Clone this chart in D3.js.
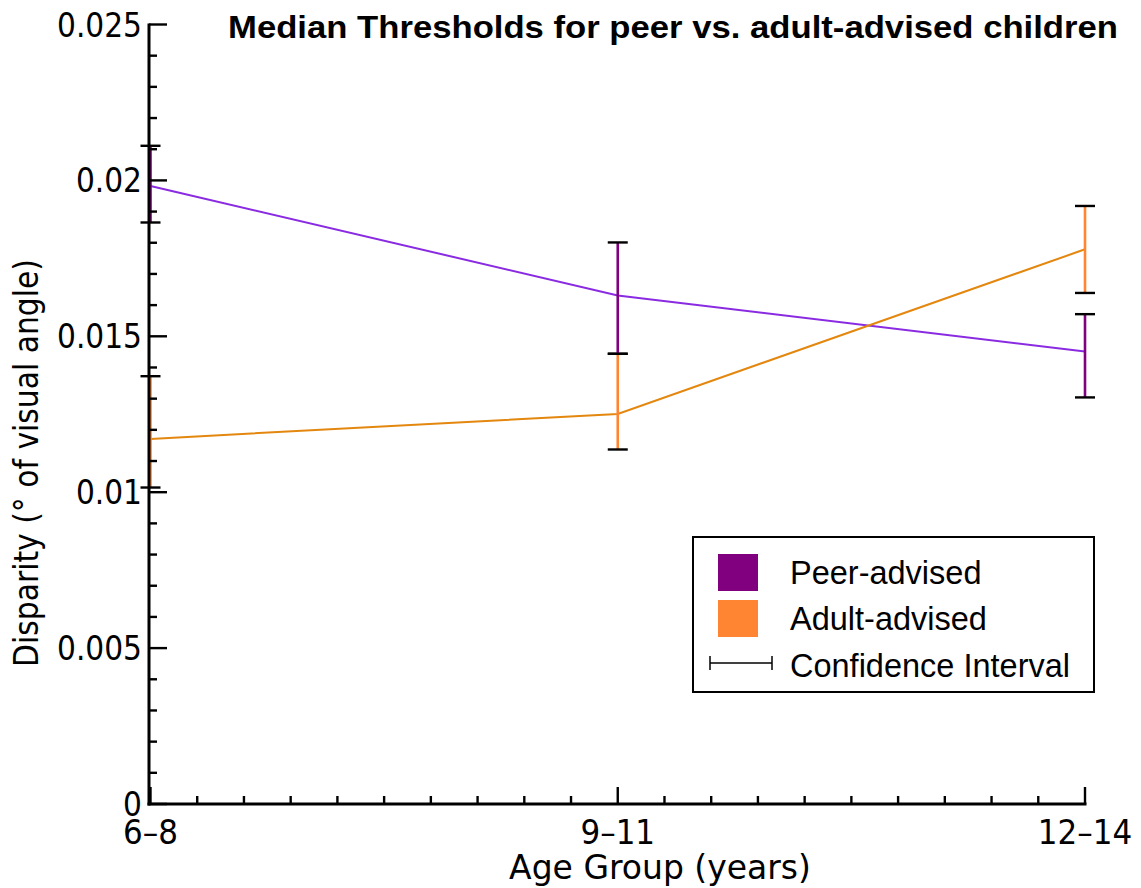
<!DOCTYPE html>
<html>
<head>
<meta charset="utf-8">
<script src="https://cdn.jsdelivr.net/npm/d3@7"></script>
<style>
  html, body { margin: 0; padding: 0; background: #fff; }
  svg { display: block; }
</style>
</head>
<body>
<svg id="chart" width="1141" height="888"></svg>
<script>
// Age groups on the x axis
const ageGroups = ["6\u20138", "9\u201311", "12\u201314"];

// Median disparity thresholds (degrees of visual angle) with confidence bounds
const peerMedian  = [0.01982, 0.01631, 0.01451];
const peerLow     = [0.01865, 0.01444, 0.01304];
const peerHigh    = [0.02111, 0.01801, 0.01571];

const adultMedian = [0.01171, 0.01251, 0.01779];
const adultLow    = [0.01015, 0.01137, 0.01639];
const adultHigh   = [0.01372, 0.01444, 0.01918];

// Axis ticks
const yMajorTicks = [0, 0.005, 0.01, 0.015, 0.02, 0.025];
const yTickLabels = ["0", "0.005", "0.01", "0.015", "0.02", "0.025"];

const seriesNames = ["Peer-advised", "Adult-advised"];
const ciLabel = "Confidence Interval";

const svg = d3.select("#chart");

const x = d3.scalePoint().domain(ageGroups).range([150.5, 1085]);
const y = d3.scaleLinear().domain([0, 0.025]).range([804, 24.5]);

const AXIS = "#000";
const tickFont = "'DejaVu Sans', sans-serif";

// ---- series lines ----
const line = d3.line()
  .x((d, i) => x(ageGroups[i]))
  .y(d => y(d));

svg.append("path").datum(peerMedian)
  .attr("d", line).attr("fill", "none")
  .attr("stroke", "#8A2BE2").attr("stroke-width", 2);

svg.append("path").datum(adultMedian)
  .attr("d", line).attr("fill", "none")
  .attr("stroke", "#E3870F").attr("stroke-width", 2);

// ---- error bars ----
function errorBars(low, high, color) {
  const g = svg.append("g");
  ageGroups.forEach((a, i) => {
    const cx = x(a);
    g.append("line")
      .attr("x1", cx).attr("x2", cx)
      .attr("y1", y(low[i])).attr("y2", y(high[i]))
      .attr("stroke", color).attr("stroke-width", 2.6);
    [low[i], high[i]].forEach(v => {
      g.append("line")
        .attr("x1", cx - 10).attr("x2", cx + 10)
        .attr("y1", y(v)).attr("y2", y(v))
        .attr("stroke", "#000").attr("stroke-width", 2.4);
    });
  });
}
errorBars(adultLow, adultHigh, "#FF8530");
errorBars(peerLow, peerHigh, "#800080");

// ---- y axis ----
const yAxisG = svg.append("g");
yAxisG.append("line")
  .attr("x1", 149).attr("x2", 149)
  .attr("y1", y(0.025) - 1).attr("y2", y(0) + 1.5)
  .attr("stroke", AXIS).attr("stroke-width", 3);

const yMinor = d3.range(0, 26).map(k => k * 0.001)
  .filter(v => !yMajorTicks.some(m => Math.abs(m - v) < 1e-9));

yAxisG.selectAll("line.minor").data(yMinor).enter().append("line")
  .attr("class", "minor")
  .attr("x1", 149).attr("x2", 157)
  .attr("y1", d => y(d)).attr("y2", d => y(d))
  .attr("stroke", AXIS).attr("stroke-width", 2.4);

yAxisG.selectAll("line.major").data(yMajorTicks).enter().append("line")
  .attr("class", "major")
  .attr("x1", 149).attr("x2", 167)
  .attr("y1", d => y(d)).attr("y2", d => y(d))
  .attr("stroke", AXIS).attr("stroke-width", 2.4);

// tick labels use a slightly narrowed DejaVu face
yAxisG.selectAll("text").data(yMajorTicks).enter().append("text")
  .attr("transform", d => `translate(142,${y(d) + 12}) scale(0.9,1)`)
  .attr("text-anchor", "end")
  .attr("font-family", tickFont)
  .attr("font-size", 33)
  .attr("fill", "#000")
  .text((d, i) => yTickLabels[i]);

// ---- x axis ----
const xAxisG = svg.append("g");
xAxisG.append("line")
  .attr("x1", 147.5).attr("x2", 1086.5)
  .attr("y1", 804).attr("y2", 804)
  .attr("stroke", AXIS).attr("stroke-width", 3);

const xMinor = [];
for (let i = 0; i < ageGroups.length - 1; i++) {
  const a = x(ageGroups[i]), b = x(ageGroups[i + 1]);
  for (let k = 1; k < 10; k++) xMinor.push(a + (b - a) * k / 10);
}
xAxisG.selectAll("line.minor").data(xMinor).enter().append("line")
  .attr("x1", d => d).attr("x2", d => d)
  .attr("y1", 804).attr("y2", 796)
  .attr("stroke", AXIS).attr("stroke-width", 2.4);

xAxisG.selectAll("line.major").data(ageGroups).enter().append("line")
  .attr("x1", d => x(d)).attr("x2", d => x(d))
  .attr("y1", 804).attr("y2", 787)
  .attr("stroke", AXIS).attr("stroke-width", 2.4);

xAxisG.selectAll("text").data(ageGroups).enter().append("text")
  .attr("transform", d => `translate(${x(d)},844) scale(0.94,1)`)
  .attr("text-anchor", "middle")
  .attr("font-family", tickFont)
  .attr("font-size", 33)
  .attr("fill", "#000")
  .text(d => d);

// ---- axis titles ----
svg.append("text")
  .attr("x", 660).attr("y", 879)
  .attr("text-anchor", "middle")
  .attr("font-family", tickFont)
  .attr("font-size", 33)
  .attr("fill", "#000")
  .text("Age Group (years)");

svg.append("text")
  .attr("transform", "translate(38,463) rotate(-90)")
  .attr("text-anchor", "middle")
  .attr("font-family", tickFont)
  .attr("font-size", 34)
  .attr("textLength", 408)
  .attr("lengthAdjust", "spacingAndGlyphs")
  .attr("fill", "#000")
  .text("Disparity (\u00B0 of visual angle)");

// ---- title ----
svg.append("text")
  .attr("x", 228).attr("y", 38)
  .attr("font-family", "'Liberation Sans', Arial, sans-serif")
  .attr("font-weight", "bold")
  .attr("font-size", 30.5)
  .attr("textLength", 890)
  .attr("lengthAdjust", "spacingAndGlyphs")
  .attr("fill", "#000")
  .text("Median Thresholds for peer vs. adult-advised children");

// ---- legend ----
const legend = svg.append("g");
legend.append("rect")
  .attr("x", 693).attr("y", 537)
  .attr("width", 401).attr("height", 155)
  .attr("fill", "#fff").attr("stroke", "#000").attr("stroke-width", 2);

const swatchColors = ["#800080", "#FF8533"];
seriesNames.forEach((name, i) => {
  legend.append("rect")
    .attr("x", 718).attr("y", 554 + i * 46)
    .attr("width", 40).attr("height", 37)
    .attr("fill", swatchColors[i]);
  legend.append("text")
    .attr("x", 790).attr("y", 584 + i * 46)
    .attr("font-family", "'Liberation Sans', Arial, sans-serif")
    .attr("font-size", 32.5)
    .attr("fill", "#000")
    .text(name);
});

legend.append("line")
  .attr("x1", 710).attr("x2", 772).attr("y1", 663).attr("y2", 663)
  .attr("stroke", "#000").attr("stroke-width", 1.5);
[710, 772].forEach(xx => {
  legend.append("line")
    .attr("x1", xx).attr("x2", xx).attr("y1", 656).attr("y2", 670)
    .attr("stroke", "#000").attr("stroke-width", 1.5);
});
legend.append("text")
  .attr("x", 790).attr("y", 677)
  .attr("font-family", "'Liberation Sans', Arial, sans-serif")
  .attr("font-size", 32.5)
  .attr("fill", "#000")
  .text(ciLabel);
</script>
</body>
</html>
